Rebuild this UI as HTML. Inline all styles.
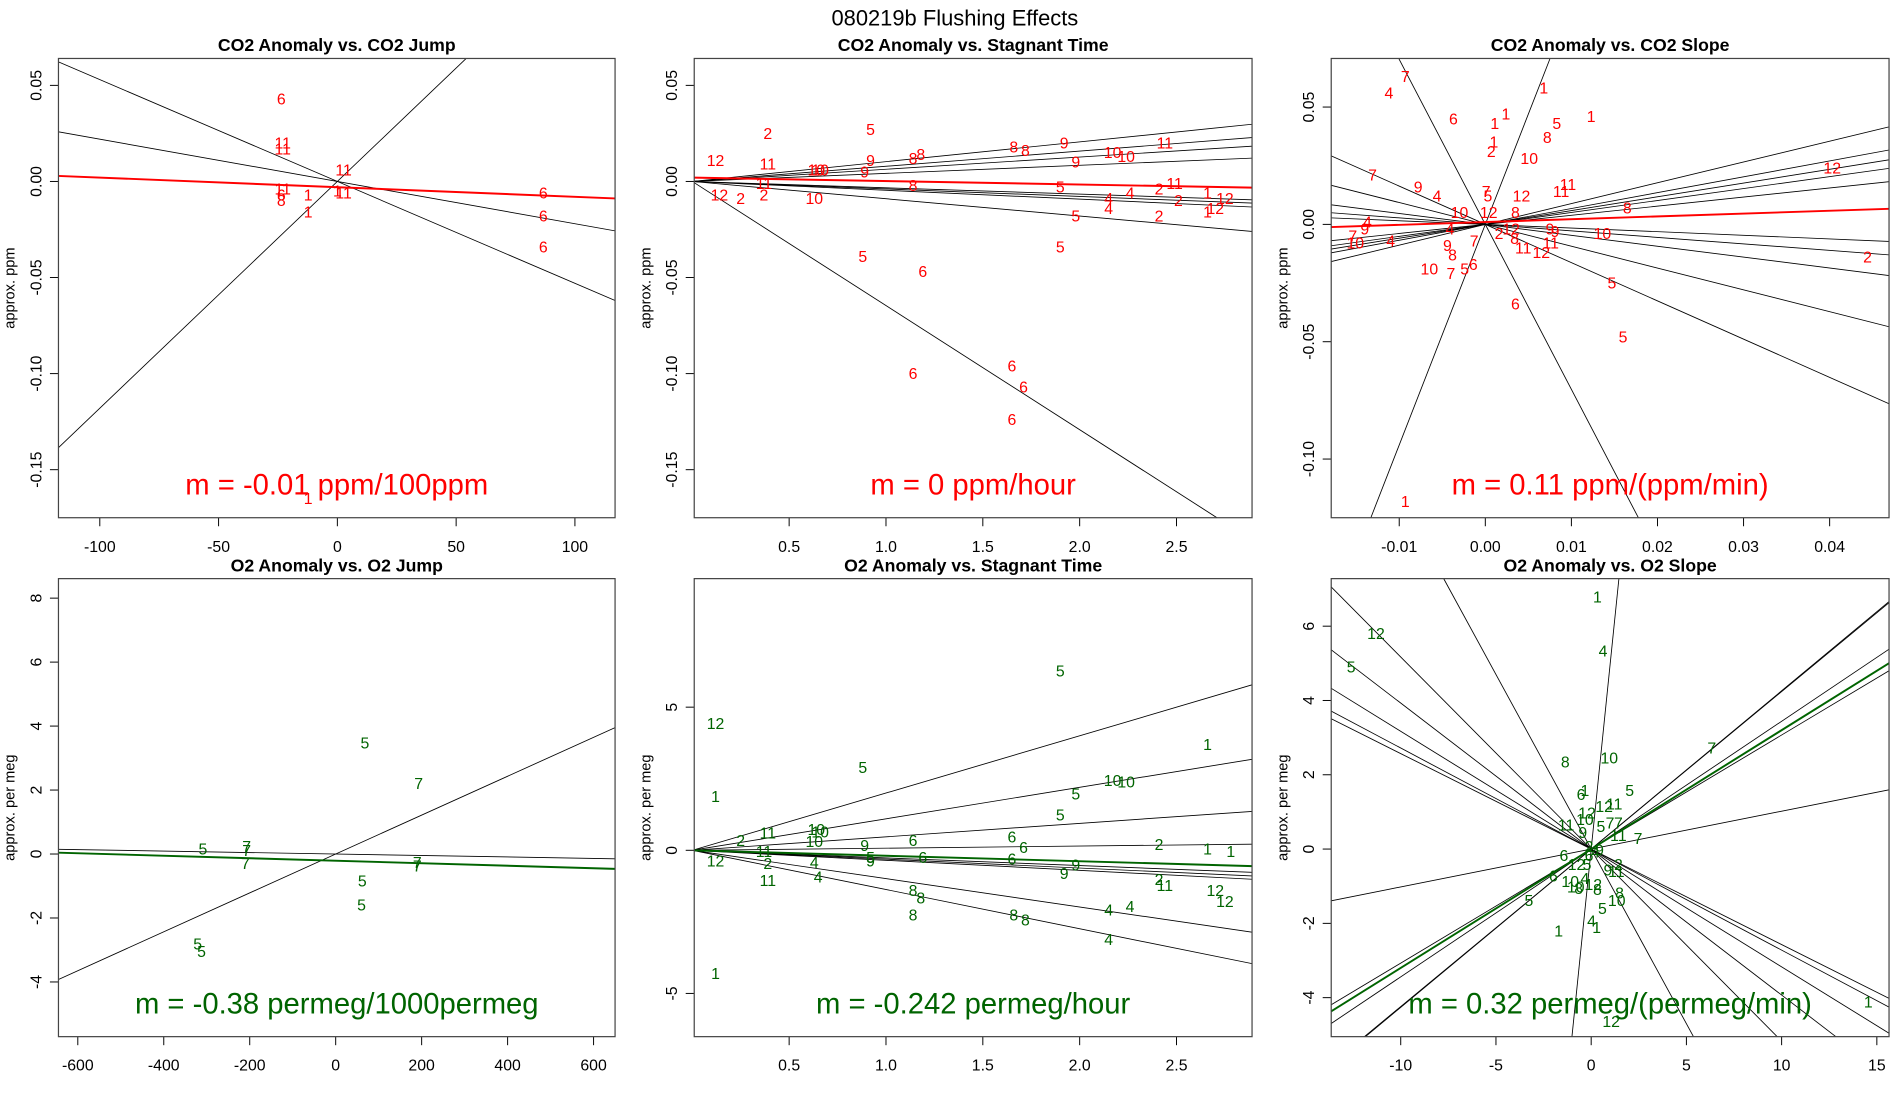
<!DOCTYPE html>
<html><head><meta charset="utf-8"><style>
html,body{margin:0;padding:0;background:#fff;width:1900px;height:1100px;overflow:hidden;}
svg{display:block;font-family:"Liberation Sans",sans-serif;overflow:hidden;}
</style></head><body>
<svg id="chart" width="1900" height="1100" viewBox="0 0 1560 903" preserveAspectRatio="none" xmlns="http://www.w3.org/2000/svg">
<text x="784" y="21" text-anchor="middle" font-size="18">080219b   Flushing Effects</text>
</svg>
<script>
// ---------- Panel 1: CO2 Anomaly vs CO2 Jump ----------
const p1Labels=["6","11","11","11","11","1","11","6","8","1","1","6","6","6","1"];
const p1X=[-23.6,-23,-23,2.6,2.6,0,-23,-23.6,-23.6,-12.3,-12.3,86.7,86.7,86.7,-12.3];
const p1Y=[0.043,0.020,0.017,0.006,-0.006,-0.005,-0.004,-0.007,-0.010,-0.007,-0.016,-0.006,-0.018,-0.034,-0.165];
const p1Slopes=[-0.00053,-0.00022,0.00118];
const p1Fit=[-0.00005,-0.003];
const p1XTicks=[-100,-50,0,50,100];
const p1YTicks=[0.05,0,-0.05,-0.10,-0.15];
const p1YTickLabels=["0.05","0.00","-0.05","-0.10","-0.15"];
// ---------- Panel 2: CO2 Anomaly vs Stagnant Time ----------
const p2Labels=["12","12","2","2","11","11","2","10","10","10","9","9","5","8","8","8","5","6","6","6","6","6","8","8","9","9","10","10","11","5","5","5","4","4","4","2","2","2","11","1","12","12","1"];
const p2X=[0.12,0.14,0.25,0.39,0.39,0.37,0.37,0.64,0.66,0.63,0.92,0.89,0.92,1.14,1.18,1.14,0.88,1.19,1.14,1.65,1.71,1.65,1.66,1.72,1.92,1.98,2.17,2.24,2.44,1.90,1.98,1.90,2.15,2.15,2.26,2.41,2.51,2.41,2.49,2.66,2.75,2.70,2.66];
const p2Y=[0.011,-0.007,-0.009,0.025,0.009,-0.001,-0.007,0.006,0.006,-0.009,0.011,0.005,0.027,0.012,0.014,-0.002,-0.039,-0.047,-0.100,-0.096,-0.107,-0.124,0.018,0.016,0.020,0.010,0.015,0.013,0.020,-0.003,-0.018,-0.034,-0.009,-0.014,-0.006,-0.004,-0.010,-0.018,-0.001,-0.006,-0.009,-0.014,-0.016];
const p2Slopes=[0.0103,0.0079,0.00635,0.0042,-0.0033,-0.0039,-0.0046,-0.0090,-0.0646];
const p2Fit=[-0.0018,0.002];
const p2XTicks=[0.5,1.0,1.5,2.0,2.5];
const p2XTickLabels=["0.5","1.0","1.5","2.0","2.5"];
const p2YTicks=[0.05,0,-0.05,-0.10,-0.15];
const p2YTickLabels=["0.05","0.00","-0.05","-0.10","-0.15"];
// ---------- Panel 3: CO2 Anomaly vs CO2 Slope ----------
const p3Labels=["7","4","1","6","1","1","1","5","8","1","2","10","7","9","4","7","5","12","11","11","12","8","9","10","2","5","5","6","10","7","5","6","8","9","4","7","10","4","9","7","1","12","11","12","9","11","8","2","10","12","8","4"];
const p3X=[-0.0093,-0.0112,0.0068,-0.0037,0.0011,0.0024,0.0123,0.0083,0.0072,0.0010,0.0007,0.0051,-0.0131,-0.0078,-0.0056,0.0001,0.0003,0.0042,0.0088,0.0096,0.0403,0.0165,0.0075,0.0136,0.0444,0.0147,0.0160,0.0035,-0.0065,-0.0040,-0.0024,-0.0014,-0.0038,-0.0044,-0.0110,-0.0154,-0.0151,-0.0137,-0.0140,-0.0013,-0.0093,0.0030,0.0044,0.0065,0.0081,0.0076,0.0034,0.0016,-0.0030,0.0004,0.0035,-0.0041];
const p3Y=[0.063,0.056,0.058,0.045,0.043,0.047,0.046,0.043,0.037,0.035,0.031,0.028,0.021,0.016,0.012,0.014,0.012,0.012,0.014,0.017,0.024,0.007,-0.002,-0.004,-0.014,-0.025,-0.048,-0.034,-0.019,-0.021,-0.019,-0.017,-0.013,-0.009,-0.007,-0.005,-0.008,0.001,-0.002,-0.007,-0.118,-0.002,-0.010,-0.012,-0.003,-0.008,-0.006,-0.004,0.005,0.005,0.005,-0.002];
const p3Slopes=[0.886,0.676,0.587,0.509,0.388,-0.155,-0.277,-0.465,-0.930,-1.63,-7.03,9.4];
const p3Fit=[0.12,0.001];
const p3XTicks=[-0.01,0,0.01,0.02,0.03,0.04];
const p3XTickLabels=["-0.01","0.00","0.01","0.02","0.03","0.04"];
const p3YTicks=[0.05,0,-0.05,-0.10];
const p3YTickLabels=["0.05","0.00","-0.05","-0.10"];
// ---------- Panel 4: O2 Anomaly vs O2 Jump ----------
const p4Labels=["5","7","5","7","7","7","7","7","5","5","5","5"];
const p4X=[68,193,-309,-207,-207,-210,190,190,62,60,-321,-312];
const p4Y=[3.47,2.21,0.15,0.23,0.11,-0.30,-0.27,-0.38,-0.84,-1.60,-2.82,-3.05];
const p4Slopes=[0.00608,-0.00023];
const p4Fit=[-0.00039,-0.21];
const p4XTicks=[-600,-400,-200,0,200,400,600];
const p4YTicks=[8,6,4,2,0,-2,-4];
// ---------- Panel 5: O2 Anomaly vs Stagnant Time ----------
const p5Labels=["12","1","1","12","2","11","11","2","11","10","10","10","4","4","5","9","9","5","8","8","8","6","6","5","1","5","10","10","5","6","6","6","9","9","2","1","1","2","11","12","12","8","8","4","4","4"];
const p5X=[0.12,0.12,0.12,0.12,0.25,0.39,0.37,0.39,0.39,0.64,0.66,0.63,0.63,0.65,0.88,0.89,0.92,0.92,1.14,1.18,1.14,1.14,1.19,1.90,2.66,1.98,2.17,2.24,1.90,1.65,1.71,1.65,1.98,1.92,2.41,2.66,2.78,2.41,2.44,2.70,2.75,1.66,1.72,2.15,2.26,2.15];
const p5Y=[4.43,1.87,-4.30,-0.38,0.34,0.60,-0.04,-0.47,-1.06,0.72,0.64,0.30,-0.43,-0.94,2.89,0.17,-0.38,-0.26,-1.40,-1.66,-2.26,0.34,-0.26,6.26,3.70,1.96,2.43,2.38,1.23,0.47,0.09,-0.30,-0.51,-0.81,0.21,0.04,-0.04,-1.02,-1.23,-1.40,-1.79,-2.26,-2.43,-2.09,-1.96,-3.11];
const p5Slopes=[2.00,1.10,0.47,0.074,-0.266,-0.31,-0.35,-0.99,-1.37];
const p5Fit=[-0.191,0];
const p5XTicks=[0.5,1.0,1.5,2.0,2.5];
const p5XTickLabels=["0.5","1.0","1.5","2.0","2.5"];
const p5YTicks=[5,0,-5];
// ---------- Panel 6: O2 Anomaly vs O2 Slope ----------
const p6Labels=["1","4","12","5","7","8","10","5","6","1","12","11","12","10","5","7","7","11","9","11","7","6","12","5","6","10","10","8","4","12","8","11","9","2","8","10","5","5","4","1","1","1","12","2","4","9","6"];
const p6X=[0.33,0.62,-11.3,-12.6,6.33,-1.36,0.95,2.02,-0.53,-0.33,0.68,1.21,-0.22,-0.33,0.51,0.99,1.43,-1.32,-0.44,1.43,2.46,-1.43,-0.77,-0.22,-1.98,-1.10,-0.81,-0.66,-0.33,0.11,0.33,1.32,0.88,1.43,1.49,1.34,0.59,-3.27,0.02,0.29,-1.71,14.55,1.05,-0.11,0.22,0.44,-0.11];
const p6Y=[6.78,5.33,5.80,4.90,2.72,2.34,2.45,1.57,1.47,1.57,1.15,1.21,0.97,0.79,0.60,0.70,0.70,0.65,0.45,0.36,0.29,-0.17,-0.42,-0.42,-0.73,-0.87,-1.02,-1.06,-0.80,-0.95,-1.09,-0.61,-0.56,-0.42,-1.19,-1.38,-1.60,-1.38,-1.94,-2.11,-2.20,-4.12,-4.64,0.07,-0.08,-0.03,-0.17];
const p6Slopes=[0.424,0.344,0.307,0.102,-0.257,-0.272,-0.317,-0.393,-0.517,-0.94,5.0,0.426];
const p6Fit=[0.32,0];
const p6XTicks=[-10,-5,0,5,10,15];
const p6YTicks=[6,4,2,0,-2,-4];

const NS="http://www.w3.org/2000/svg";
const svg=document.getElementById('chart');
function mk(tag,attrs,parent){const e=document.createElementNS(NS,tag);for(const k in attrs)e.setAttribute(k,attrs[k]);(parent||svg).appendChild(e);return e;}

// segment of y = m*x + b restricted to the plotting domain
function seg(m,b,xd,yd){
  let x0=xd[0],x1=xd[1];
  if(m!==0){
    let xa=(yd[0]-b)/m, xb=(yd[1]-b)/m;
    const lo=Math.min(xa,xb), hi=Math.max(xa,xb);
    x0=Math.max(x0,lo); x1=Math.min(x1,hi);
  }
  return [x0,m*x0+b,x1,m*x1+b];
}

function panel(cfg){
  const [L,T,R,B]=cfg.rect;
  const sx=v=>L+(v-cfg.xd[0])/(cfg.xd[1]-cfg.xd[0])*(R-L);
  const sy=v=>B-(v-cfg.yd[0])/(cfg.yd[1]-cfg.yd[0])*(B-T);
  const g=mk('g',{});
  
  
  const t=mk('text',{x:(L+R)/2,y:T-6,'text-anchor':'middle','font-size':'14.5','font-weight':'bold'},g);
  t.textContent=cfg.title;
  
  
  const yl=mk('text',{x:0,y:0,'text-anchor':'middle','font-size':'12',transform:`translate(${L-36},${(T+B)/2}) rotate(-90)`},g);
  yl.textContent=cfg.ylab;
  
  
  cfg.xt.forEach((v,i)=>{
    const x=sx(v);
    const tk=mk('line',{x1:x,x2:x,y1:B,y2:B+7,stroke:'#000','stroke-width':0.8},g);
    
    
    const tl=mk('text',{x:x,y:B+28,'text-anchor':'middle','font-size':'13'},g);
    tl.textContent=cfg.xtl?cfg.xtl[i]:String(v);
    
    
  });
  cfg.yt.forEach((v,i)=>{
    const y=sy(v);
    const tk=mk('line',{x1:L-7,x2:L,y1:y,y2:y,stroke:'#000','stroke-width':0.8},g);
    
    
    const tl=mk('text',{x:0,y:0,'text-anchor':'middle','font-size':'13',transform:`translate(${L-14},${y}) rotate(-90)`},g);
    tl.textContent=cfg.ytl?cfg.ytl[i]:String(v);
    
    
  });
  cfg.slopes.forEach(m=>{
    const s=seg(m,0,cfg.xd,cfg.yd);
    const l=mk('line',{x1:sx(s[0]),y1:sy(s[1]),x2:sx(s[2]),y2:sy(s[3]),stroke:'#000','stroke-width':0.7},g);
    
    
  });
  const f=cfg.fit;
  const s=seg(f[0],f[1],cfg.xd,cfg.yd);
  const fl=mk('line',{x1:sx(s[0]),y1:sy(s[1]),x2:sx(s[2]),y2:sy(s[3]),stroke:cfg.color,'stroke-width':1.6},g);
  
  
  cfg.labels.forEach((lab,i)=>{
    const p=mk('text',{x:sx(cfg.px[i]),y:sy(cfg.py[i])+4.5,'text-anchor':'middle','font-size':'13',fill:cfg.color},g);
    p.textContent=lab;
    
    
  });
  const mt=mk('text',{x:(L+R)/2,y:B-19,'text-anchor':'middle','font-size':'24',fill:cfg.color},g);
  mt.textContent=cfg.mtext;
  
  
  const bx=mk('rect',{x:L,y:T,width:R-L,height:B-T,fill:'none',stroke:'#444','stroke-width':1},g);
  
  
}
const RED='#ff0000',GRN='#006400';
panel({name:'co2-vs-co2-jump',rect:[48,48,505,425],xd:[-117.4,116.9],yd:[-0.175,0.064],title:'CO2 Anomaly vs. CO2 Jump',ylab:'approx. ppm',xt:p1XTicks,yt:p1YTicks,ytl:p1YTickLabels,slopes:p1Slopes,fit:p1Fit,labels:p1Labels,px:p1X,py:p1Y,color:RED,mtext:'m = -0.01 ppm/100ppm'});
panel({name:'co2-vs-stagnant-time',rect:[570,48,1028,425],xd:[0.01,2.89],yd:[-0.175,0.064],title:'CO2 Anomaly vs. Stagnant Time',ylab:'approx. ppm',xt:p2XTicks,xtl:p2XTickLabels,yt:p2YTicks,ytl:p2YTickLabels,slopes:p2Slopes,fit:p2Fit,labels:p2Labels,px:p2X,py:p2Y,color:RED,mtext:'m = 0 ppm/hour'});
panel({name:'co2-vs-co2-slope',rect:[1093,48,1551,425],xd:[-0.0179,0.0469],yd:[-0.125,0.0707],title:'CO2 Anomaly vs. CO2 Slope',ylab:'approx. ppm',xt:p3XTicks,xtl:p3XTickLabels,yt:p3YTicks,ytl:p3YTickLabels,slopes:p3Slopes,fit:p3Fit,labels:p3Labels,px:p3X,py:p3Y,color:RED,mtext:'m = 0.11 ppm/(ppm/min)'});
panel({name:'o2-vs-o2-jump',rect:[48,475,505,851],xd:[-645,650],yd:[-5.71,8.61],title:'O2 Anomaly vs. O2 Jump',ylab:'approx. per meg',xt:p4XTicks,yt:p4YTicks,slopes:p4Slopes,fit:p4Fit,labels:p4Labels,px:p4X,py:p4Y,color:GRN,mtext:'m = -0.38 permeg/1000permeg'});
panel({name:'o2-vs-stagnant-time',rect:[570,475,1028,851],xd:[0.01,2.89],yd:[-6.51,9.49],title:'O2 Anomaly vs. Stagnant Time',ylab:'approx. per meg',xt:p5XTicks,xtl:p5XTickLabels,yt:p5YTicks,slopes:p5Slopes,fit:p5Fit,labels:p5Labels,px:p5X,py:p5Y,color:GRN,mtext:'m = -0.242 permeg/hour'});
panel({name:'o2-vs-o2-slope',rect:[1093,475,1551,851],xd:[-13.65,15.64],yd:[-5.05,7.28],title:'O2 Anomaly vs. O2 Slope',ylab:'approx. per meg',xt:p6XTicks,yt:p6YTicks,slopes:p6Slopes,fit:p6Fit,labels:p6Labels,px:p6X,py:p6Y,color:GRN,mtext:'m = 0.32 permeg/(permeg/min)'});
</script>
</body></html>
